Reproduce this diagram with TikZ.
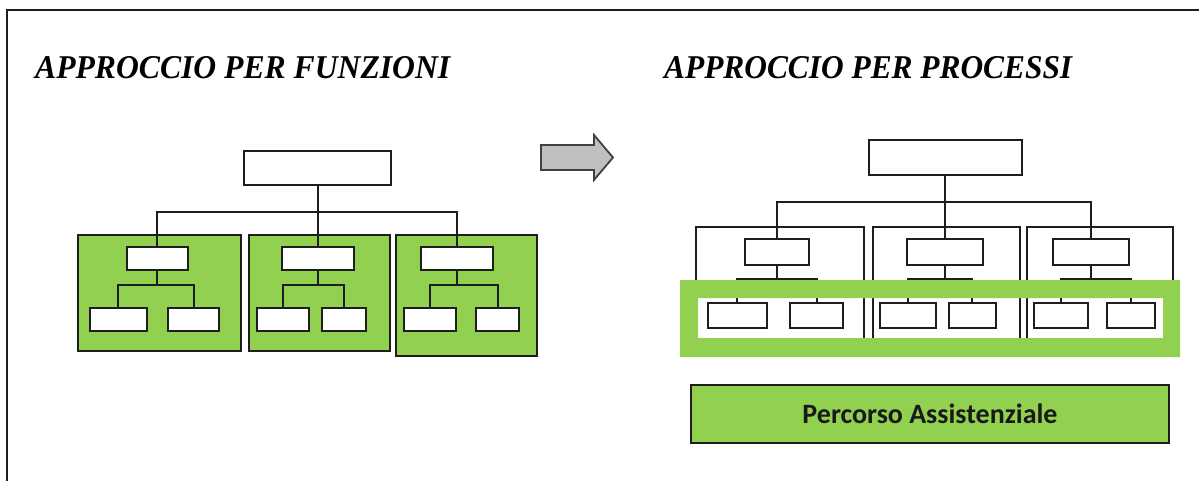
\documentclass[tikz,border=0pt]{standalone}
\usepackage{fontspec}
\setmainfont{Liberation Serif}
\newfontfamily\calib{Carlito}
\usepackage{graphicx}
\definecolor{office}{HTML}{92D050}
\definecolor{edge}{HTML}{1E1E1E}
\definecolor{arrowgray}{HTML}{BFBFBF}
\begin{document}
\begin{tikzpicture}[x=1pt,y=-1pt,
  wbox/.style={draw=edge,fill=white,line width=2pt,inner sep=0pt,rectangle},
  gbox/.style={draw=edge,fill=office,line width=2pt,inner sep=0pt,rectangle},
  link/.style={draw=edge,line width=2pt},
  title/.style={anchor=base west,inner sep=0pt}]
\useasboundingbox (0,0) rectangle (1199,481);
\fill[white] (0,0) rectangle (1199,481);

% outer frame (left and top rules)
\draw[line width=2.2pt,edge] (7,481) -- (7,10) -- (1199,10);

% headings
\node[title] (tl) at (35,79) {\resizebox{415pt}{22pt}{\bfseries\itshape APPROCCIO PER FUNZIONI}};
\node[title] (tr) at (664,79) {\resizebox{408pt}{22pt}{\bfseries\itshape APPROCCIO PER PROCESSI}};

% transition arrow
\draw[fill=arrowgray,draw=black!75,line width=1.8pt,line join=miter]
  (541,145) -- (594,145) -- (594,135) -- (613,157.5) -- (594,180) -- (594,170) -- (541,170) -- cycle;

% ---------- function-oriented chart ----------
\node[gbox,minimum width=163pt,minimum height=116pt] (g1) at (159.5,293) {};
\node[gbox,minimum width=141pt,minimum height=116pt] (g2) at (319.5,293) {};
\node[gbox,minimum width=141pt,minimum height=121pt] (g3) at (466.5,295.5) {};

\coordinate (busL) at (317.5,212);
\node[wbox,minimum width=147pt,minimum height=34pt] (topL) at (317.5,168) {};
\node[wbox,minimum width=61pt,minimum height=23pt] (m1) at (157,258.5) {};
\node[wbox,minimum width=72pt,minimum height=23pt] (m2) at (317.5,258.5) {};
\node[wbox,minimum width=72pt,minimum height=23pt] (m3) at (457,258.5) {};

\node[wbox,minimum width=57pt,minimum height=23pt] (s1a) at (118,319.5) {};
\node[wbox,minimum width=51pt,minimum height=23pt] (s1b) at (193.5,319.5) {};
\node[wbox,minimum width=52pt,minimum height=23pt] (s2a) at (283,319.5) {};
\node[wbox,minimum width=44pt,minimum height=23pt] (s2b) at (344,319.5) {};
\node[wbox,minimum width=52pt,minimum height=23pt] (s3a) at (430,319.5) {};
\node[wbox,minimum width=43pt,minimum height=23pt] (s3b) at (497.5,319.5) {};

\path[link] (topL.south) -- (m2.north);
\path[link] (m1.north) |- (busL) -| (m3.north);
\path[link] (m1.south) -- ++(0,13.5) -| (s1a.north);
\path[link] (m1.south) -- ++(0,13.5) -| (s1b.north);
\path[link] (m2.south) -- ++(0,13.5) -| (s2a.north);
\path[link] (m2.south) -- ++(0,13.5) -| (s2b.north);
\path[link] (m3.south) -- ++(0,13.5) -| (s3a.north);
\path[link] (m3.south) -- ++(0,13.5) -| (s3b.north);

% ---------- process-oriented chart ----------
% column frames, open at the bottom
\draw[link] (696,338) -- (696,227) -- (864,227) -- (864,338);
\draw[link] (873,338) -- (873,227) -- (1020,227) -- (1020,338);
\draw[link] (1027,338) -- (1027,227) -- (1173,227) -- (1173,338);

\coordinate (busR) at (945,202);
\node[wbox,minimum width=153pt,minimum height=35pt] (topR) at (945,157.5) {};
\node[wbox,minimum width=64pt,minimum height=26pt] (r1) at (777,252) {};
\node[wbox,minimum width=76pt,minimum height=26pt] (r2) at (945,252) {};
\node[wbox,minimum width=76pt,minimum height=26pt] (r3) at (1091,252) {};

\path[link] (topR.south) -- (r2.north);
\path[link] (r1.north) |- (busR) -| (r3.north);

\node[wbox,minimum width=59pt,minimum height=25pt] (q1a) at (737,315.5) {};
\node[wbox,minimum width=53pt,minimum height=25pt] (q1b) at (816.5,315.5) {};
\node[wbox,minimum width=56pt,minimum height=25pt] (q2a) at (908,315.5) {};
\node[wbox,minimum width=47pt,minimum height=25pt] (q2b) at (972,315.5) {};
\node[wbox,minimum width=54pt,minimum height=25pt] (q3a) at (1061,315.5) {};
\node[wbox,minimum width=48pt,minimum height=25pt] (q3b) at (1131,315.5) {};

\path[link] (r1.south) -- ++(0,13) -| (q1a.north);
\path[link] (r1.south) -- ++(0,13) -| (q1b.north);
\path[link] (r2.south) -- ++(0,13) -| (q2a.north);
\path[link] (r2.south) -- ++(0,13) -| (q2b.north);
\path[link] (r3.south) -- ++(0,13) -| (q3a.north);
\path[link] (r3.south) -- ++(0,13) -| (q3b.north);

% green band across the lower level
\fill[office,even odd rule] (680,280) rectangle (1180,357) (698,298) rectangle (1163,338);

% care pathway bar
\node[gbox,minimum width=478pt,minimum height=58pt] (path) at (930,414) {};
\node[inner sep=0pt,anchor=center,text=black!90] (pathtxt) at (path.center)
  {\resizebox{255pt}{!}{\calib\bfseries Percorso Assistenziale}};
\end{tikzpicture}
\end{document}
